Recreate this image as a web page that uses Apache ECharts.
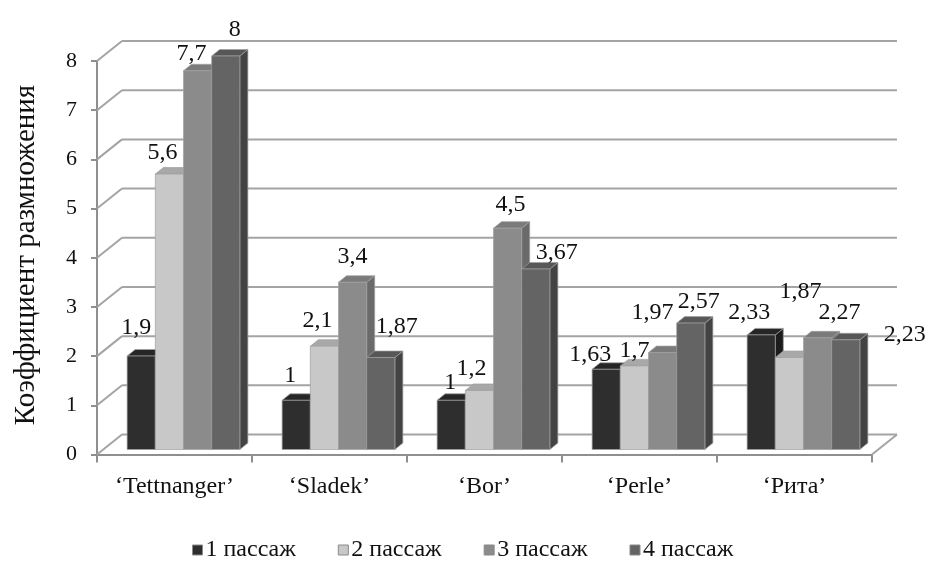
<!DOCTYPE html>
<html>
<head>
<meta charset="utf-8">
<script src="https://cdn.jsdelivr.net/npm/echarts@6/dist/echarts.min.js"></script>
<style>
  html, body { margin: 0; padding: 0; background: #fff; }
  #chart { width: 937px; height: 578px; }
</style>
</head>
<body>
<div id="chart"></div>
<script>
// Varieties and passage results (multiplication coefficient)
const categories = ['‘Tettnanger’', '‘Sladek’', '‘Bor’', '‘Perle’', '‘Рита’'];
const seriesNames = ['1 пассаж', '2 пассаж', '3 пассаж', '4 пассаж'];
const passage1 = [1.9, 1, 1, 1.63, 2.33];
const passage2 = [5.6, 2.1, 1.2, 1.7, 1.87];
const passage3 = [7.7, 3.4, 4.5, 1.97, 2.27];
const passage4 = [8, 1.87, 3.67, 2.57, 2.23];
const yTicks = [0, 1, 2, 3, 4, 5, 6, 7, 8];

const passages = [passage1, passage2, passage3, passage4];

// Face shades for each passage: front, top, side
const FRONT = ['#2e2e2e', '#c8c8c8', '#8b8b8b', '#646464'];
const TOP   = ['#262626', '#a8a8a8', '#7b7b7b', '#575757'];
const SIDE  = ['#1c1c1c', '#8e8e8e', '#6a6a6a', '#434343'];

// Pseudo-3D geometry (pixels)
const WALL = [25, -20];       // offset from front plane to back wall
const BAR_SHIFT = [9, -5];    // bars stand slightly behind the front plane
const BAR_DEPTH = [8, -6.5];  // visible depth of each column
const GAP_FACTOR = 5.5;       // 4 columns + 150 % gap

// Per-point nudges of the value labels [dx, dy], by passage then variety
const labelNudge = [
  [[-5, -28], [-6, -25], [-1, -18], [-16, -15], [-12, -22]],
  [[-7, -21], [-7, -26], [-8, -22], [0, -15], [11, -66]],
  [[-6, -17], [0, -26], [3, -23], [-10, -40], [22, -25]],
  [[9, -26], [16, -31], [21, -16], [8, -21], [59, -5]]
];

const FONT = '"Liberation Serif", "Times New Roman", serif';
const GRID_COLOR = '#a4a4a4';
const AXIS_COLOR = '#8f8f8f';

function barGeom(api, i, v, s) {
  const base = api.coord([i, 0]);
  const top = api.coord([i, v]);
  const bw = api.size([1, 0])[0] / GAP_FACTOR;
  const x0 = base[0] - 2 * bw + s * bw + BAR_SHIFT[0];
  return { x0: x0, x1: x0 + bw, bw: bw, yb: base[1] + BAR_SHIFT[1], yt: top[1] + BAR_SHIFT[1] };
}

function makeBarRenderer(s) {
  return function (params, api) {
    const g = barGeom(api, api.value(0), api.value(1), s);
    const dx = BAR_DEPTH[0], dy = BAR_DEPTH[1];
    const edge = { stroke: 'rgba(160,160,160,0.7)', lineWidth: 1 };
    return {
      type: 'group',
      children: [
        { type: 'polygon', shape: { points: [[g.x1, g.yt], [g.x1 + dx, g.yt + dy], [g.x1 + dx, g.yb + dy], [g.x1, g.yb]] },
          style: Object.assign({ fill: SIDE[s] }, edge) },
        { type: 'polygon', shape: { points: [[g.x0, g.yt], [g.x1, g.yt], [g.x1 + dx, g.yt + dy], [g.x0 + dx, g.yt + dy]] },
          style: Object.assign({ fill: TOP[s] }, edge) },
        { type: 'rect', shape: { x: g.x0, y: g.yt, width: g.bw, height: g.yb - g.yt },
          style: Object.assign({ fill: FRONT[s] }, edge) }
      ]
    };
  };
}

function renderWall(params, api) {
  const cs = params.coordSys;
  const v = api.value(1);
  const y = api.coord([0, v])[1];
  const left = cs.x, right = cs.x + cs.width;
  const style = { stroke: GRID_COLOR, lineWidth: 2, fill: null };
  const children = [
    { type: 'line', shape: { x1: left, y1: y, x2: left + WALL[0], y2: y + WALL[1] }, style: style },
    { type: 'line', shape: { x1: left + WALL[0], y1: y + WALL[1], x2: right + WALL[0], y2: y + WALL[1] }, style: style }
  ];
  if (v === 0) {
    children.push({ type: 'line', shape: { x1: right, y1: y, x2: right + WALL[0], y2: y + WALL[1] }, style: style });
  }
  return { type: 'group', children: children };
}

function renderLabel(params, api) {
  const i = api.value(0), v = api.value(1), s = api.value(2);
  const g = barGeom(api, i, v, s);
  const n = labelNudge[s][i];
  return {
    type: 'text',
    x: g.x0 + g.bw / 2 + n[0],
    y: g.yt + n[1],
    style: {
      text: String(v).replace('.', ','),
      font: '24px ' + FONT,
      fill: '#111',
      align: 'center',
      verticalAlign: 'middle'
    }
  };
}

const labelData = [];
passages.forEach(function (arr, s) {
  arr.forEach(function (v, i) { labelData.push([i, v, s]); });
});

const series = [{
  type: 'custom',
  name: 'wall',
  silent: true,
  z: 1,
  renderItem: renderWall,
  data: yTicks.map(function (t) { return [0, t]; })
}];

passages.forEach(function (arr, s) {
  series.push({
    type: 'custom',
    name: seriesNames[s],
    z: 2 + s,
    itemStyle: { color: FRONT[s] },
    renderItem: makeBarRenderer(s),
    data: arr.map(function (v, i) { return [i, v]; })
  });
});

series.push({
  type: 'custom',
  name: 'values',
  silent: true,
  z: 20,
  renderItem: renderLabel,
  data: labelData
});

const chart = echarts.init(document.getElementById('chart'), null, { renderer: 'canvas' });
chart.setOption({
  animation: false,
  backgroundColor: '#fff',
  grid: { left: 97, right: 65, top: 61, bottom: 123.5 },
  xAxis: {
    type: 'category',
    data: categories,
    axisLine: { show: true, lineStyle: { color: AXIS_COLOR, width: 2 } },
    axisTick: { show: true, length: 8, lineStyle: { color: AXIS_COLOR, width: 2 } },
    axisLabel: { fontFamily: FONT, fontSize: 24, color: '#111', margin: 20 },
    splitLine: { show: false }
  },
  yAxis: {
    type: 'value',
    min: 0, max: 8, interval: 1,
    axisLine: { show: true, lineStyle: { color: AXIS_COLOR, width: 2 } },
    axisTick: { show: true, length: 6, lineStyle: { color: AXIS_COLOR, width: 2 } },
    axisLabel: { fontFamily: FONT, fontSize: 22, color: '#111', margin: 20 },
    splitLine: { show: false }
  },
  legend: {
    data: seriesNames.map(function (n, k) {
      return { name: n, itemStyle: { color: FRONT[k], borderColor: '#8a8a8a', borderWidth: 1 } };
    }),
    icon: 'rect',
    left: 187,
    top: 533,
    itemWidth: 10,
    itemHeight: 10,
    itemGap: 42,
    textStyle: { fontFamily: FONT, fontSize: 24, color: '#111', padding: [0, 0, 0, -2] }
  },
  graphic: [{
    type: 'text',
    x: 26,
    y: 255,
    rotation: Math.PI / 2,
    style: {
      text: 'Коэффициент размножения',
      font: '29px ' + FONT,
      fill: '#111',
      align: 'center',
      verticalAlign: 'middle'
    }
  }],
  series: series
});
</script>
</body>
</html>
